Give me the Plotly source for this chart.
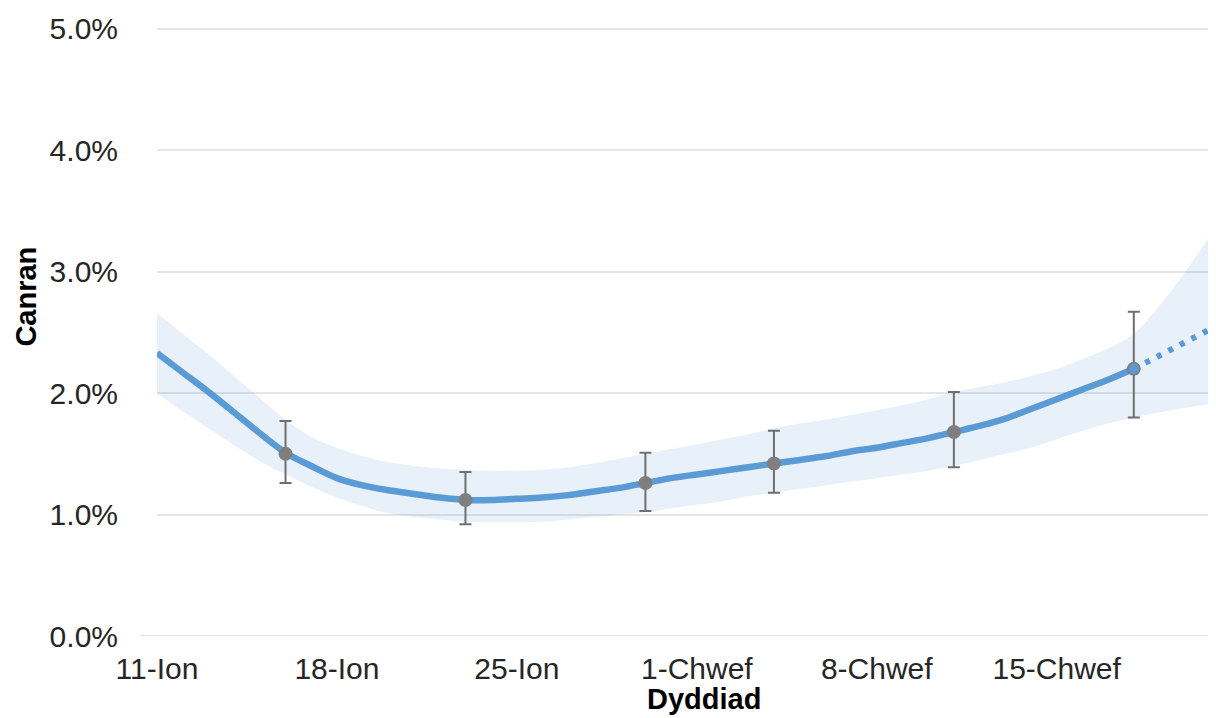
import pandas as pd
import plotly.graph_objects as go

# ---- data (percent) ----
start_date = "2021-01-11"
central = [2.33, 2.17, 2.01, 1.84, 1.67, 1.51, 1.40, 1.30, 1.24, 1.20,
           1.17, 1.14, 1.12, 1.12, 1.13, 1.14, 1.16, 1.19, 1.22, 1.26,
           1.30, 1.33, 1.36, 1.39, 1.42, 1.45, 1.48, 1.52, 1.55, 1.59,
           1.63, 1.68, 1.73, 1.79, 1.87, 1.95, 2.03, 2.11, 2.20]
projected = [2.20, 2.31, 2.42, 2.53]
band_lower = [2.00, 1.85, 1.71, 1.57, 1.44, 1.33, 1.23, 1.14, 1.07, 1.01,
              0.98, 0.96, 0.94, 0.94, 0.94, 0.94, 0.96, 0.98, 1.00, 1.02,
              1.05, 1.08, 1.11, 1.15, 1.18, 1.21, 1.24, 1.27, 1.30, 1.33,
              1.36, 1.40, 1.45, 1.50, 1.55, 1.62, 1.69, 1.75, 1.80, 1.84,
              1.88, 1.91]
band_upper = [2.66, 2.49, 2.32, 2.14, 1.96, 1.78, 1.64, 1.55, 1.48, 1.43,
              1.40, 1.38, 1.37, 1.36, 1.36, 1.37, 1.39, 1.42, 1.46, 1.50,
              1.54, 1.58, 1.62, 1.66, 1.71, 1.75, 1.78, 1.82, 1.86, 1.90,
              1.95, 2.01, 2.05, 2.09, 2.14, 2.20, 2.28, 2.37, 2.49, 2.72,
              3.00, 3.31]
point_dates = ["2021-01-16", "2021-01-23", "2021-01-30", "2021-02-04", "2021-02-11", "2021-02-18"]
point_values = [1.50, 1.12, 1.26, 1.42, 1.68, 2.20]
point_upper = [1.77, 1.35, 1.51, 1.69, 2.01, 2.67]
point_lower = [1.26, 0.92, 1.03, 1.18, 1.39, 1.80]
tick_dates = ["2021-01-11", "2021-01-18", "2021-01-25", "2021-02-01", "2021-02-08", "2021-02-15"]
tick_labels = ["11-Ion", "18-Ion", "25-Ion", "1-Chwef", "8-Chwef", "15-Chwef"]
y_ticks = [0, 1, 2, 3, 4, 5]
y_tick_labels = [f"{v:.1f}%" for v in y_ticks]

band_dates = pd.date_range(start_date, periods=len(band_lower), freq="D")
central_dates = band_dates[:len(central)]
proj_dates = band_dates[len(central) - 1:len(central) - 1 + len(projected)]

BLUE = "#5b9bd5"
FONT = "Liberation Sans, Arial, sans-serif"
TXT = "#262626"

fig = go.Figure()
fig.add_trace(go.Scatter(x=band_dates, y=band_lower, mode="lines",
                         line=dict(width=0, shape="spline"), hoverinfo="skip", showlegend=False))
fig.add_trace(go.Scatter(x=band_dates, y=band_upper, mode="lines", fill="tonexty",
                         fillcolor="rgba(91,155,213,0.14)",
                         line=dict(width=0, shape="spline"), hoverinfo="skip", showlegend=False))
fig.add_trace(go.Scatter(x=central_dates, y=central, mode="lines",
                         line=dict(color=BLUE, width=6.5, shape="spline"), showlegend=False))
fig.add_trace(go.Scatter(x=proj_dates, y=projected, mode="lines",
                         line=dict(color=BLUE, width=6, dash="5px,8px"), showlegend=False))
marker_colors = ["#7f7f7f"] * (len(point_values) - 1) + [BLUE]
fig.add_trace(go.Scatter(
    x=pd.to_datetime(point_dates), y=point_values, mode="markers",
    marker=dict(size=12, color=marker_colors, line=dict(color="#7f7f7f", width=2)),
    error_y=dict(type="data", symmetric=False,
                 array=[u - v for u, v in zip(point_upper, point_values)],
                 arrayminus=[v - l for v, l in zip(point_values, point_lower)],
                 color="#6f6f6f", thickness=2, width=6),
    showlegend=False))

x0 = pd.Timestamp(start_date)
x1 = band_dates[-1] + pd.Timedelta(hours=1)

fig.update_layout(
    width=1208, height=710,
    margin=dict(l=149, r=4, t=19, b=82),
    paper_bgcolor="white", plot_bgcolor="white",
    font=dict(family=FONT, size=30, color=TXT),
    xaxis=dict(type="date", range=[x0, x1], tickvals=pd.to_datetime(tick_dates),
               ticktext=tick_labels, showgrid=False, zeroline=False, showline=False,
               ticks="", ticklabelstandoff=12,
               tickfont=dict(family=FONT, size=30, color=TXT)),
    yaxis=dict(range=[0, 5.015], tickvals=y_ticks, ticktext=y_tick_labels,
               showgrid=True, gridcolor="#e5e5e5", gridwidth=1.5, zeroline=False,
               showline=False, ticks="", ticklabelstandoff=38,
               tickfont=dict(family=FONT, size=30, color=TXT)),
    shapes=[dict(type="line", xref="paper", yref="y", x0=-0.016, x1=1, y0=0, y1=0,
                 line=dict(color="#d9d9d9", width=1.5), layer="below")],
    annotations=[
        dict(text="<b>Dyddiad</b>", xref="paper", yref="paper", x=0.5185, y=-0.104,
             xanchor="center", yanchor="middle", showarrow=False,
             font=dict(family=FONT, size=29, color="#000000")),
        dict(text="<b>Canran</b>", xref="paper", yref="paper", x=-0.124, y=0.5576,
             xanchor="center", yanchor="middle", showarrow=False, textangle=-90,
             font=dict(family=FONT, size=29, color="#000000")),
    ],
)

fig.write_html("out.html")
